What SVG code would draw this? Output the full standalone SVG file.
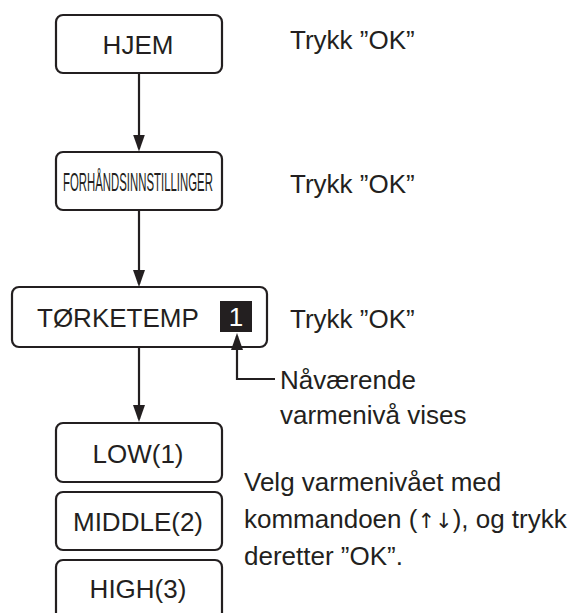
<svg xmlns="http://www.w3.org/2000/svg" width="571" height="613" viewBox="0 0 571 613">
<defs>
<style>
.box{fill:#fff;stroke:#231f20;stroke-width:2.2}
.t{font-family:"Liberation Sans",Arial,sans-serif;font-size:26px;fill:#231f20}
.c{text-anchor:middle}
.ln{fill:none;stroke:#231f20;stroke-width:2.2}
.ar{font-family:"DejaVu Sans",sans-serif;font-size:21px}
</style>
<marker id="ah" markerUnits="userSpaceOnUse" viewBox="0 0 17 12" refX="14" refY="6" markerWidth="17" markerHeight="12" orient="auto">
<path d="M0,0 L17,6 L0,12 z" fill="#231f20"/>
</marker>
</defs>
<rect width="571" height="613" fill="#fff"/>
<g id="hjem">
<rect class="box" x="56" y="15" width="166" height="58" rx="7"/>
<text class="t c" x="138" y="54">HJEM</text>
</g>
<g id="forhandsinnstillinger">
<rect class="box" x="56" y="152" width="166" height="58" rx="7"/>
<text class="t" transform="translate(63,191) scale(0.438,1)" x="0" y="0">FORHÅNDSINNSTILLINGER</text>
</g>
<g id="torketemp">
<rect class="box" x="12" y="287" width="255" height="60" rx="7"/>
<text class="t" x="37" y="327">TØRKETEMP</text>
<rect x="220" y="301" width="32" height="31" fill="#231f20"/>
<text class="t c" x="236" y="326" style="fill:#fff">1</text>
</g>
<g id="low">
<rect class="box" x="56" y="423" width="166" height="59" rx="7"/>
<text class="t c" x="138" y="463">LOW(1)</text>
</g>
<g id="middle">
<rect class="box" x="56" y="492" width="166" height="58" rx="7"/>
<text class="t c" x="138" y="531">MIDDLE(2)</text>
</g>
<g id="high">
<rect class="box" x="56" y="560" width="166" height="70" rx="7"/>
<text class="t c" x="138" y="598">HIGH(3)</text>
</g>
<g id="connectors">
<line class="ln" x1="139" y1="73" x2="139" y2="148.5" marker-end="url(#ah)"/>
<line class="ln" x1="139" y1="210" x2="139" y2="284" marker-end="url(#ah)"/>
<line class="ln" x1="139" y1="347" x2="139" y2="419" marker-end="url(#ah)"/>
<polyline class="ln" points="275,379 237,379 237,336" marker-end="url(#ah)"/>
</g>
<g id="labels">
<text class="t" x="290" y="49">Trykk ”OK”</text>
<text class="t" x="290" y="193">Trykk ”OK”</text>
<text class="t" x="290" y="328">Trykk ”OK”</text>
<text class="t" x="280" y="389">Nåværende</text>
<text class="t" x="280" y="424">varmenivå vises</text>
<text class="t" x="244" y="491">Velg varmenivået med</text>
<text class="t" x="244" y="528">kommandoen (<tspan class="ar">↑↓</tspan>), og trykk</text>
<text class="t" x="244" y="565">deretter ”OK”.</text>
</g>
</svg>
